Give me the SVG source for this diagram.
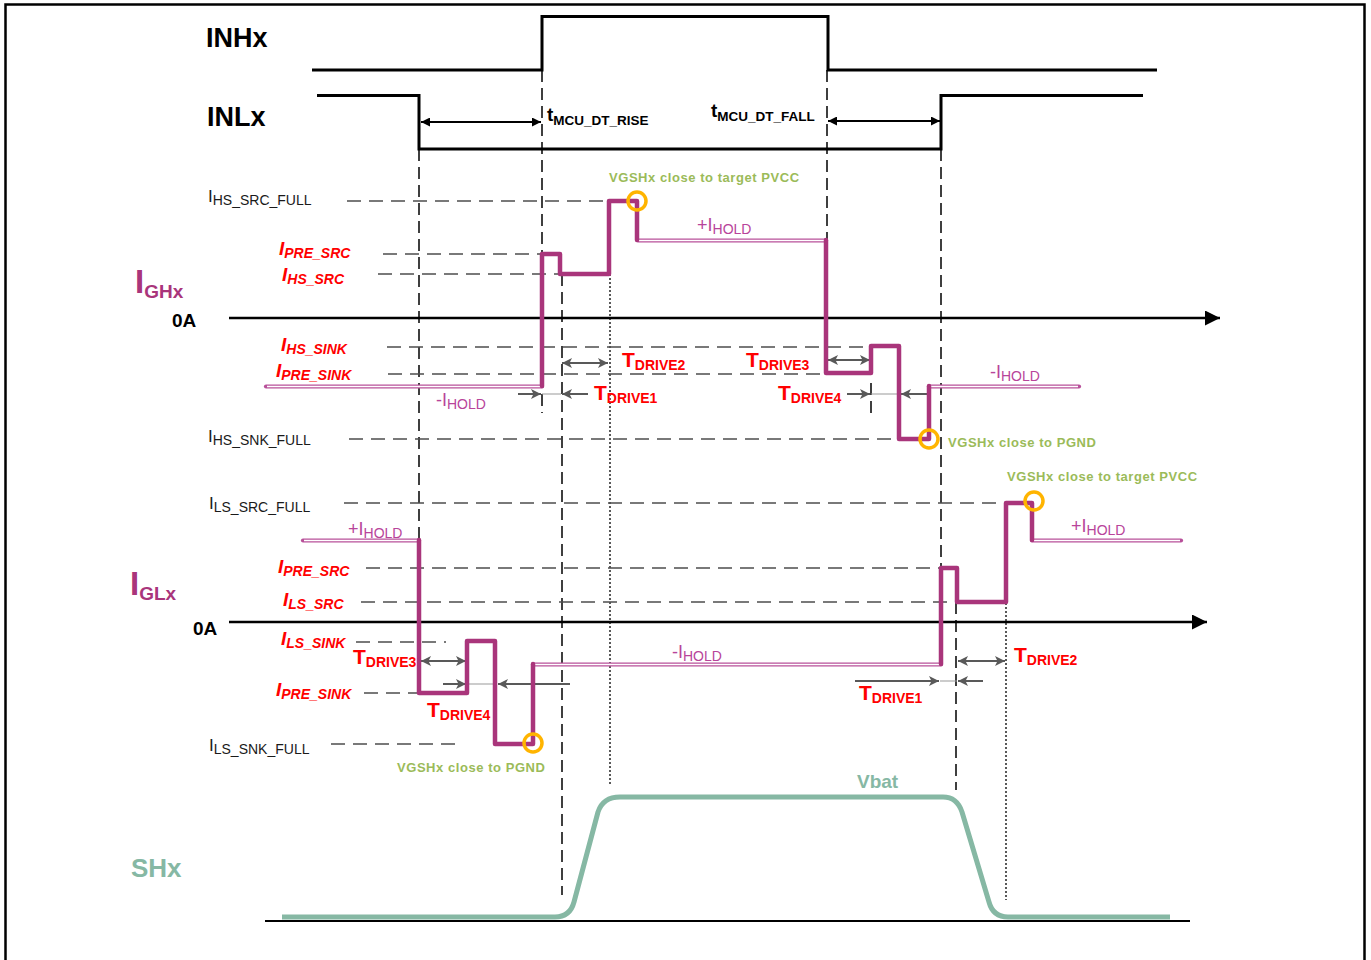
<svg xmlns="http://www.w3.org/2000/svg" width="1371" height="960" viewBox="0 0 1371 960">
<defs>
<marker id="ab" viewBox="0 0 10 10" refX="10" refY="5" markerWidth="10" markerHeight="9" markerUnits="userSpaceOnUse" orient="auto-start-reverse"><path d="M0,0 L10,5 L0,10 z" fill="#000"/></marker>
<marker id="ag" viewBox="0 0 10 10" refX="10" refY="5" markerWidth="11" markerHeight="10" markerUnits="userSpaceOnUse" orient="auto-start-reverse"><path d="M0,0 L10,5 L0,10 L2.5,5 z" fill="#595959"/></marker>
<marker id="ax" viewBox="0 0 10 10" refX="10" refY="5" markerWidth="16" markerHeight="15" markerUnits="userSpaceOnUse" orient="auto"><path d="M0,0 L10,5 L0,10 z" fill="#000"/></marker>
<style>
text{font-family:"Liberation Sans",Arial,sans-serif}
.lbl{font-weight:bold;fill:#000}
.sig{fill:none;stroke:#000;stroke-width:3}
.axis{fill:none;stroke:#000;stroke-width:2.5}
.vd{fill:none;stroke:#000;stroke-width:1.5;stroke-dasharray:12 6}
.vdot{fill:none;stroke:#000;stroke-width:1.3;stroke-dasharray:2 2}
.hd{fill:none;stroke:#4d4d4d;stroke-width:1.3;stroke-dasharray:14 8}
.wave{fill:none;stroke:#A9357B;stroke-width:4.5;stroke-linejoin:round;stroke-linecap:round}
.hold{fill:none;stroke:#B8509A;stroke-width:4.2;stroke-linecap:round}
.holdin{fill:none;stroke:#fff;stroke-width:1.6}
.ring{fill:none;stroke:#FFB400;stroke-width:3.5}
.red{fill:#FF0000;font-weight:bold;font-style:italic}
.tdr{fill:#FF0000;font-weight:bold}
.pink{fill:#B8449A}
.grn{fill:#9BBB59;font-weight:bold;font-size:13px;letter-spacing:0.55px}
.ref{fill:#1a1a1a}
.ga{fill:none;stroke:#595959;stroke-width:2}
.gthin{fill:none;stroke:#999;stroke-width:1}
.ba{fill:none;stroke:#000;stroke-width:1.8}
.shx{fill:none;stroke:#86B8A4;stroke-width:5;stroke-linejoin:round}
</style>
</defs>
<rect x="0" y="0" width="1371" height="960" fill="#fff"/>
<rect id="frame" x="5.5" y="4.5" width="1359" height="970" fill="none" stroke="#000" stroke-width="2.5"/>

<g id="guides">
<path class="vd" d="M542,70 V413"/>
<path class="vd" d="M827,70 V240"/>
<path class="vd" d="M419,149 V540"/>
<path class="vd" d="M941,149 V568"/>
<path class="vd" d="M562,274 V895"/>
<path class="vdot" d="M610,274 V785"/>
<path class="vd" d="M871,383 V413"/>
<path class="vd" d="M956,602 V790"/>
<path class="vdot" d="M1006,503 V900"/>
<path class="hd" d="M347,201 H609"/>
<path class="hd" d="M383,254 H542"/>
<path class="hd" d="M378,274 H560"/>
<path class="hd" d="M387,347 H868"/>
<path class="hd" d="M388,374 H826"/>
<path class="hd" d="M349,439 H899"/>
<path class="hd" d="M344,503 H1005"/>
<path class="hd" d="M366,568 H941"/>
<path class="hd" d="M361,602 H957"/>
<path class="hd" d="M356,642 H446"/>
<path class="hd" d="M364,693 H419"/>
<path class="hd" d="M331,744 H463"/>
</g>

<g id="inhx">
<path class="sig" d="M312,70 H542 V16.5 H828 V70 H1157"/>
<text class="lbl" x="206" y="47" font-size="27">INHx</text>
</g>
<g id="inlx">
<path class="sig" d="M317,95.5 H419 V149 H941 V95.5 H1143"/>
<text class="lbl" x="207" y="126" font-size="27">INLx</text>
</g>

<g id="connectors">
<path class="ba" d="M421,122 H541" marker-start="url(#ab)" marker-end="url(#ab)"/>
<path class="ba" d="M828,121 H940" marker-start="url(#ab)" marker-end="url(#ab)"/>
<path class="axis" d="M229,318 H1220" marker-end="url(#ax)"/>
<path class="axis" d="M229,622 H1207" marker-end="url(#ax)"/>
<path d="M265,921 H1190" fill="none" stroke="#000" stroke-width="1.8"/>
<path class="ga" d="M518,394 H541" marker-end="url(#ag)"/>
<path class="gthin" d="M542,394 H561"/>
<path class="ga" d="M588,394 H562" marker-end="url(#ag)"/>
<path class="ga" d="M562,363 H608" marker-start="url(#ag)" marker-end="url(#ag)"/>
<path class="ga" d="M828,360 H870" marker-start="url(#ag)" marker-end="url(#ag)"/>
<path class="ga" d="M847,394 H870" marker-end="url(#ag)"/>
<path class="gthin" d="M871,394 H899"/>
<path class="ga" d="M928,394 H901" marker-end="url(#ag)"/>
<path class="ga" d="M421,661 H466" marker-start="url(#ag)" marker-end="url(#ag)"/>
<path class="ga" d="M443,684 H466" marker-end="url(#ag)"/>
<path class="gthin" d="M467,684 H496"/>
<path class="ga" d="M570,684 H498" marker-end="url(#ag)"/>
<path class="ga" d="M855,681 H939" marker-end="url(#ag)"/>
<path class="gthin" d="M940,681 H957"/>
<path class="ga" d="M983,681 H958" marker-end="url(#ag)"/>
<path class="ga" d="M958,661 H1005" marker-start="url(#ag)" marker-end="url(#ag)"/>
</g>

<g id="ighx">
<path class="hold" d="M266,386.5 H542"/>
<path class="holdin" d="M267,386.5 H541"/>
<path class="hold" d="M638,240.5 H826"/>
<path class="holdin" d="M639,240.5 H825"/>
<path class="hold" d="M929,386.5 H1079"/>
<path class="holdin" d="M931,386.5 H1078"/>
<path class="wave" d="M542,386 V254 H560 V274 H609 V201 H637 V240"/>
<path class="wave" d="M826,240 V373 H871 V346 H899 V439 H929 V386"/>
<circle class="ring" cx="637" cy="201" r="9"/>
<circle class="ring" cx="929" cy="439" r="9"/>
</g>

<g id="iglx">
<path class="hold" d="M303,540.5 H419"/>
<path class="holdin" d="M304,540.5 H418"/>
<path class="hold" d="M533,664.5 H941"/>
<path class="holdin" d="M535,664.5 H940"/>
<path class="hold" d="M1032,540.5 H1181"/>
<path class="holdin" d="M1034,540.5 H1180"/>
<path class="wave" d="M419,540 V693 H467 V641 H495 V744 H533 V664"/>
<path class="wave" d="M941,664 V568 H957 V602 H1006 V503 H1032 V540"/>
<circle class="ring" cx="533" cy="743" r="9"/>
<circle class="ring" cx="1034" cy="501" r="9"/>
</g>

<g id="shx">
<path class="shx" d="M282,917 H555 Q570,917 574,902 L598,812 Q603,797 620,797 H943 Q957,797 962,812 L989,902 Q993,917 1008,917 H1170"/>
<text x="131" y="877" font-size="26" font-weight="bold" fill="#86B8A4">SHx</text>
<text x="857" y="788" font-size="19" font-weight="bold" fill="#86B8A4">Vbat</text>
</g>

<g id="labels">
<text class="lbl" x="547" y="121" font-size="19">t<tspan font-size="13.5" dy="4">MCU_DT_RISE</tspan></text>
<text class="lbl" x="711" y="117" font-size="19">t<tspan font-size="13.5" dy="4">MCU_DT_FALL</tspan></text>

<text x="135" y="293" font-size="33" font-weight="bold" fill="#A9357B">I<tspan font-size="19" dy="5">GHx</tspan></text>
<text class="lbl" x="172" y="327" font-size="19">0A</text>
<text x="130" y="595" font-size="33" font-weight="bold" fill="#A9357B">I<tspan font-size="19" dy="5">GLx</tspan></text>
<text class="lbl" x="193" y="635" font-size="19">0A</text>

<text class="ref" x="208" y="202" font-size="17">I<tspan font-size="14" dy="3">HS_SRC_FULL</tspan></text>
<text class="ref" x="208" y="442" font-size="17">I<tspan font-size="14" dy="3">HS_SNK_FULL</tspan></text>
<text class="ref" x="209" y="509" font-size="17">I<tspan font-size="14" dy="3">LS_SRC_FULL</tspan></text>
<text class="ref" x="209" y="751" font-size="17">I<tspan font-size="14" dy="3">LS_SNK_FULL</tspan></text>

<text class="red" x="279" y="255" font-size="19">I<tspan font-size="14" dy="3">PRE_SRC</tspan></text>
<text class="red" x="282" y="281" font-size="19">I<tspan font-size="14" dy="3">HS_SRC</tspan></text>
<text class="red" x="281" y="351" font-size="19">I<tspan font-size="14" dy="3">HS_SINK</tspan></text>
<text class="red" x="276" y="377" font-size="19">I<tspan font-size="14" dy="3">PRE_SINK</tspan></text>
<text class="red" x="278" y="573" font-size="19">I<tspan font-size="14" dy="3">PRE_SRC</tspan></text>
<text class="red" x="283" y="606" font-size="19">I<tspan font-size="14" dy="3">LS_SRC</tspan></text>
<text class="red" x="281" y="645" font-size="19">I<tspan font-size="14" dy="3">LS_SINK</tspan></text>
<text class="red" x="276" y="696" font-size="19">I<tspan font-size="14" dy="3">PRE_SINK</tspan></text>

<text class="tdr" x="594" y="400" font-size="21">T<tspan font-size="14" dy="3">DRIVE1</tspan></text>
<text class="tdr" x="622" y="367" font-size="21">T<tspan font-size="14" dy="3">DRIVE2</tspan></text>
<text class="tdr" x="746" y="367" font-size="21">T<tspan font-size="14" dy="3">DRIVE3</tspan></text>
<text class="tdr" x="778" y="400" font-size="21">T<tspan font-size="14" dy="3">DRIVE4</tspan></text>
<text class="tdr" x="353" y="664" font-size="21">T<tspan font-size="14" dy="3">DRIVE3</tspan></text>
<text class="tdr" x="427" y="717" font-size="21">T<tspan font-size="14" dy="3">DRIVE4</tspan></text>
<text class="tdr" x="859" y="700" font-size="21">T<tspan font-size="14" dy="3">DRIVE1</tspan></text>
<text class="tdr" x="1014" y="662" font-size="21">T<tspan font-size="14" dy="3">DRIVE2</tspan></text>

<text class="pink" x="697" y="231" font-size="18">+I<tspan font-size="14" dy="3">HOLD</tspan></text>
<text class="pink" x="436" y="406" font-size="18">-I<tspan font-size="14" dy="3">HOLD</tspan></text>
<text class="pink" x="990" y="378" font-size="18">-I<tspan font-size="14" dy="3">HOLD</tspan></text>
<text class="pink" x="348" y="535" font-size="18">+I<tspan font-size="14" dy="3">HOLD</tspan></text>
<text class="pink" x="672" y="658" font-size="18">-I<tspan font-size="14" dy="3">HOLD</tspan></text>
<text class="pink" x="1071" y="532" font-size="18">+I<tspan font-size="14" dy="3">HOLD</tspan></text>

<text class="grn" x="609" y="182">VGSHx close to target PVCC</text>
<text class="grn" x="948" y="447">VGSHx close to PGND</text>
<text class="grn" x="1007" y="481">VGSHx close to target PVCC</text>
<text class="grn" x="397" y="772">VGSHx close to PGND</text>
</g>
</svg>
